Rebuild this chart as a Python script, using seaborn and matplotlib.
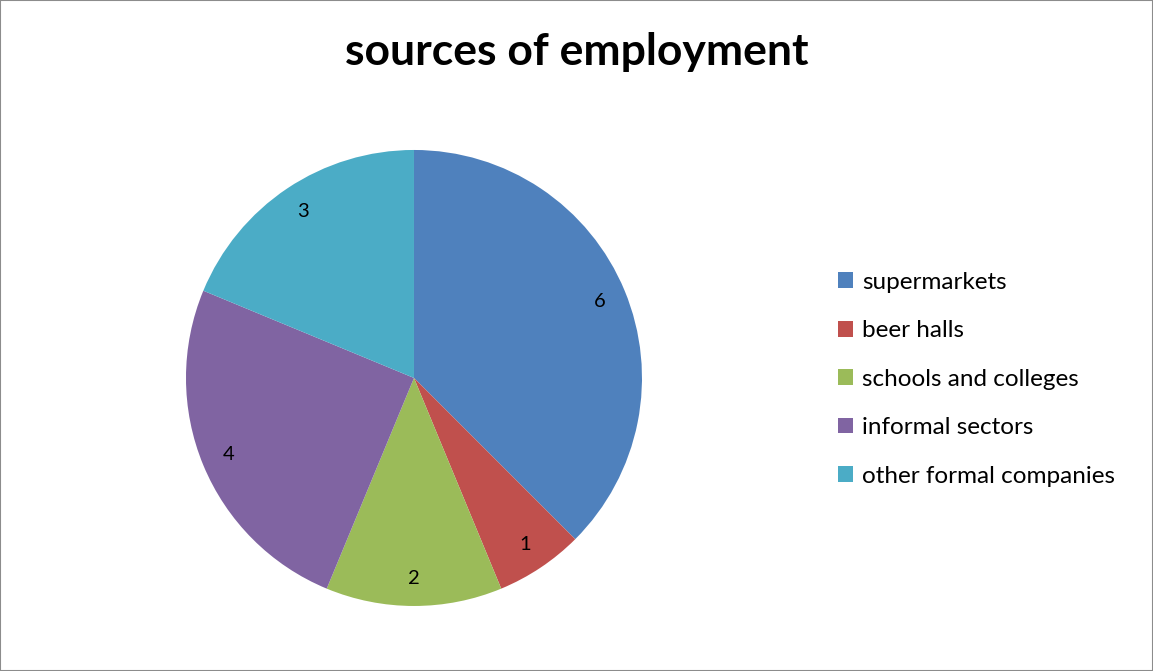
import matplotlib
matplotlib.use("Agg")
import matplotlib.pyplot as plt
from matplotlib.patches import Rectangle, Patch
import seaborn as sns

categories = ["supermarkets", "beer halls", "schools and colleges", "informal sectors", "other formal companies"]
values = [6, 1, 2, 4, 3]
colors = ["#4F81BD", "#C0504D", "#9BBB59", "#8064A2", "#4BACC6"]
title = "sources of employment"

sns.set_theme(style="white")
plt.rcParams['font.family'] = ['Lato', 'DejaVu Sans']
plt.rcParams['text.color'] = 'black'

fig = plt.figure(figsize=(11.53, 6.71), dpi=100)
fig.patch.set_facecolor("white")
ax = fig.add_axes([0.1613, 0.0969, 0.3955, 0.6796])

wedges, texts, autotexts = ax.pie(
    values, colors=colors, startangle=90, counterclock=False, radius=1,
    autopct=lambda p: f"{round(p * sum(values) / 100):d}", pctdistance=0.88,
    wedgeprops=dict(linewidth=0), textprops=dict(fontsize=14.5, color="black"))
ax.set_xlim(-1, 1)
ax.set_ylim(-1, 1)
ax.set_aspect("equal")
ax.axis("off")

fig.text(0.5, 0.922, title, ha="center", va="center", fontsize=32, fontweight="bold", color="black")

handles = [Patch(facecolor=c, edgecolor="none") for c in colors]
fig.legend(handles, categories, loc="upper left", bbox_to_anchor=(0.7185, 0.6095),
           frameon=False, fontsize=17.5, handlelength=0.62, handleheight=0.62,
           handletextpad=0.35, labelspacing=1.13, borderaxespad=0, labelcolor="black")

fig.patches.append(Rectangle((0, 0), 1, 1, transform=fig.transFigure, fill=False,
                             edgecolor="#8c8c8c", linewidth=1.5))

fig.savefig("out.png", dpi=100)
